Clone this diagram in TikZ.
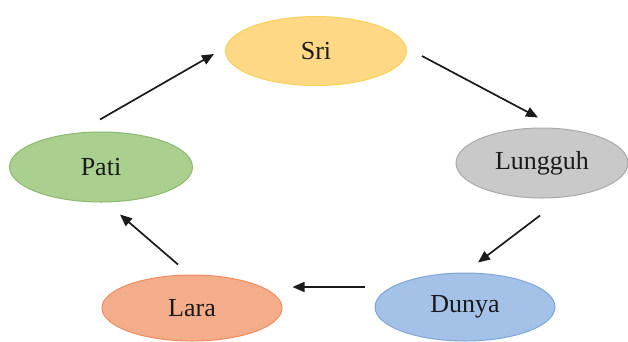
\documentclass[tikz,border=0pt]{standalone}
\usepackage{fontspec}
\setmainfont{Liberation Serif}
\usetikzlibrary{shapes.geometric,arrows.meta,calc}
\definecolor{sriF}{HTML}{FFD886}
\definecolor{sriD}{HTML}{F7D25A}
\definecolor{lunF}{HTML}{C9C9C9}
\definecolor{lunD}{HTML}{AAAAAA}
\definecolor{patF}{HTML}{A9D08E}
\definecolor{patD}{HTML}{8CB870}
\definecolor{larF}{HTML}{F4AD8A}
\definecolor{larD}{HTML}{EF8C5C}
\definecolor{dunF}{HTML}{A4C2E8}
\definecolor{dunD}{HTML}{7EA6D8}
\definecolor{txt}{HTML}{1A1A1A}
\tikzset{
  oval/.style={ellipse, inner sep=0pt, line width=1pt, text=txt,
    font=\fontsize{26}{30}\selectfont},
  conn/.style={line width=1.7pt, draw=txt, -{Triangle[length=12pt,width=10pt]}}
}
\begin{document}
\begin{tikzpicture}[x=1pt,y=-1pt]
\useasboundingbox (0,0) rectangle (628,341);
\node[oval, fill=sriF, draw=sriD, minimum width=181pt, minimum height=69pt] (sri) at (316,51) {Sri};
\node[oval, fill=lunF, draw=lunD, minimum width=172pt, minimum height=70pt] (lun) at (542,163) {Lungguh};
\node[oval, fill=patF, draw=patD, minimum width=183pt, minimum height=70pt] (pat) at (101,167) {Pati};
\node[oval, fill=larF, draw=larD, minimum width=180pt, minimum height=66pt] (lar) at (192,308) {Lara};
\node[oval, fill=dunF, draw=dunD, minimum width=180pt, minimum height=68pt] (dun) at (465,307) {Dunya};
\coordinate (a1s) at ($(pat.north)+(-1,-12)$);
\coordinate (a1e) at ($(sri.west)+(-11,3)$);
\coordinate (a2s) at ($(sri.east)+(15,5)$);
\coordinate (a2e) at ($(lun.north)+(-4,-10)$);
\coordinate (a3s) at ($(lun.south)+(-2,17)$);
\coordinate (a3e) at ($(dun.north)+(13,-10)$);
\coordinate (a4s) at ($(dun.west)+(-10,-20)$);
\coordinate (a4e) at ($(lar.east)+(10,-21)$);
\coordinate (a5s) at ($(lar.north)+(-14,-10)$);
\coordinate (a5e) at ($(pat.south)+(19,12)$);
\draw[conn] (a1s) -- (a1e);
\draw[conn] (a2s) -- (a2e);
\draw[conn] (a3s) -- (a3e);
\draw[conn] (a4s) -- (a4e);
\draw[conn] (a5s) -- (a5e);
\end{tikzpicture}
\end{document}
